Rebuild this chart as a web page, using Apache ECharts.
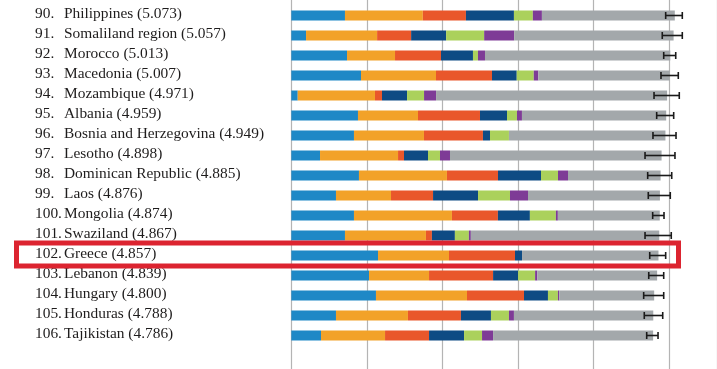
<!DOCTYPE html>
<html>
<head>
<meta charset="utf-8">
<script src="https://cdn.jsdelivr.net/npm/echarts@6/dist/echarts.min.js"></script>
<style>
html,body{margin:0;padding:0;background:#fff;}
#c{width:717px;height:369px;}
</style>
</head>
<body>
<div id="c"></div>
<script>
// ---- data (rows 90..106) ----
const ranks = ['90.','91.','92.','93.','94.','95.','96.','97.','98.','99.','100.','101.','102.','103.','104.','105.','106.'];
const countries = ['Philippines','Somaliland region','Morocco','Macedonia','Mozambique','Albania','Bosnia and Herzegovina','Lesotho','Dominican Republic','Laos','Mongolia','Swaziland','Greece','Lebanon','Hungary','Honduras','Tajikistan'];
const scores = [5.073,5.057,5.013,5.007,4.971,4.959,4.949,4.898,4.885,4.876,4.874,4.867,4.857,4.839,4.800,4.788,4.786];
const gdp        = [0.710,0.195,0.737,0.922,0.085,0.882,0.829,0.380,0.895,0.591,0.829,0.710,1.147,1.028,1.120,0.591,0.393];
const social     = [1.030,0.940,0.635,0.992,1.022,0.794,0.926,1.032,1.164,0.728,1.296,1.071,0.939,0.794,1.204,0.952,0.847];
const health     = [0.570,0.450,0.608,0.741,0.093,0.820,0.780,0.079,0.675,0.556,0.608,0.079,0.873,0.847,0.754,0.701,0.582];
const freedom    = [0.635,0.463,0.423,0.327,0.331,0.357,0.093,0.317,0.569,0.595,0.423,0.304,0.093,0.331,0.317,0.397,0.463];
const generosity = [0.250,0.503,0.066,0.225,0.225,0.132,0.251,0.159,0.225,0.423,0.344,0.185,0.000,0.225,0.132,0.238,0.238];
const corruption = [0.120,0.397,0.093,0.061,0.159,0.066,0.000,0.132,0.132,0.238,0.026,0.026,0.000,0.030,0.017,0.066,0.146];
const ciLow  = [4.952,4.907,4.926,4.890,4.798,4.833,4.784,4.679,4.714,4.722,4.780,4.679,4.741,4.728,4.661,4.669,4.701];
const ciHigh = [5.172,5.172,5.085,5.119,5.132,5.058,5.089,5.075,5.032,5.013,4.930,5.026,4.952,4.926,4.926,4.913,4.851];
const highlight = 'Greece';

// dystopia + residual = score minus explained parts
const dystopia = scores.map((s,i)=> +(s - gdp[i]-social[i]-health[i]-freedom[i]-generosity[i]-corruption[i]).toFixed(3));

const colors = ['#1e88c6','#f2a229','#e9572b','#0e4b84','#abd15c','#7e3b96','#a3a8ab'];
const parts = [gdp,social,health,freedom,generosity,corruption,dystopia];
const partNames = ['GDP per capita','Social support','Healthy life expectancy','Freedom','Generosity','Corruption','Dystopia + residual'];

const W = 717, H = 369;
const LEFT = 291.3, UNIT = 75.6, ROW = 20, TOP = 5.5;
const XMAX = +((W - LEFT) / UNIT).toFixed(4);

const chart = echarts.init(document.getElementById('c'), null, {renderer:'canvas'});

const barSeries = parts.map((p,k)=>({
  name: partNames[k], type:'bar', stack:'total', data: p,
  xAxisIndex:0, yAxisIndex:0,
  barWidth: 10, itemStyle:{color:colors[k]}, silent:true, animation:false
}));

const errData = countries.map((c,i)=> [ciLow[i], ciHigh[i], i]);

const option = {
  animation:false,
  grid:[
    {left:LEFT, right:0, top:TOP, height:ROW*countries.length, containLabel:false},
    {left:LEFT, right:0, top:0, bottom:0, containLabel:false}
  ],
  xAxis:[
    {gridIndex:0, type:'value', min:0, max:XMAX, interval:1, show:true, axisLabel:{show:false}, axisTick:{show:false}, axisLine:{show:false}, splitLine:{show:false}},
    {gridIndex:1, type:'value', min:0, max:XMAX, interval:1, axisLabel:{show:false}, axisTick:{show:false}, axisLine:{show:false},
     splitLine:{show:true, lineStyle:{color:'#b4b4b4', width:1.2}}}
  ],
  yAxis:[
    {gridIndex:0, type:'category', data:countries, inverse:true, axisLine:{show:false}, axisTick:{show:false}, splitLine:{show:false},
    axisLabel:{
      show:true, align:'left', margin:LEFT-35, interval:0,
      formatter:function(v){
        const i = countries.indexOf(v);
        return '{r|'+ranks[i]+'}{n|'+countries[i]+' ('+scores[i].toFixed(3)+')}';
      },
      rich:{
        r:{width:29, fontFamily:'Liberation Serif', fontSize:15.4, color:'#1e1c1c', padding:[0,0,4,0]},
        n:{fontFamily:'Liberation Serif', fontSize:15.4, color:'#1e1c1c', padding:[0,0,4,0]}
      }
    }},
    {gridIndex:1, type:'value', min:0, max:1, show:false, splitLine:{show:false}}
  ],
  series: barSeries.concat([{
    type:'custom', data: errData, silent:true, z:10, xAxisIndex:0, yAxisIndex:0,
    renderItem:function(params, api){
      const lo = api.coord([api.value(0), api.value(2)]);
      const hi = api.coord([api.value(1), api.value(2)]);
      const y = lo[1], h = 3.5;
      const st = {stroke:'#1a1a1a', lineWidth:1.6};
      return {type:'group', children:[
        {type:'line', shape:{x1:lo[0],y1:y,x2:hi[0],y2:y}, style:st},
        {type:'line', shape:{x1:lo[0],y1:y-h,x2:lo[0],y2:y+h}, style:st},
        {type:'line', shape:{x1:hi[0],y1:y-h,x2:hi[0],y2:y+h}, style:st}
      ]};
    }
  }])
};
chart.setOption(option);

// highlight box around the highlighted country row
const cy = chart.convertToPixel({yAxisIndex:0}, highlight);
chart.setOption({graphic:[{type:'rect', z:100, silent:true,
  shape:{x:16.5, y:cy-12.5, width:662, height:23},
  style:{fill:'none', stroke:'#dc2430', lineWidth:5}}]});
</script>
</body>
</html>
